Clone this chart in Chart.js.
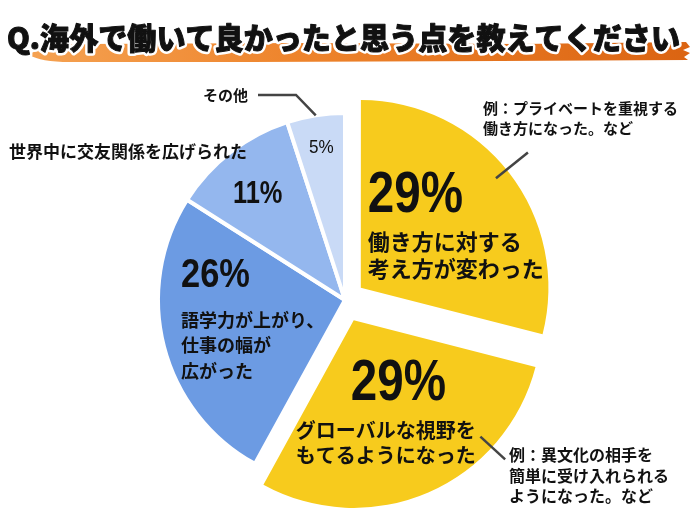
<!DOCTYPE html>
<html>
<head>
<meta charset="utf-8">
<script src="https://cdn.jsdelivr.net/npm/chart.js@4"></script>
<style>
  html, body { margin: 0; padding: 0; background: #fff; }
</style>
</head>
<body>
<canvas id="myChart" width="690" height="520"></canvas>
<script>
// chart data
var titleText = 'Q.海外で働いて良かったと思う点を教えてください';
var categories = ['働き方に対する考え方が変わった', 'グローバルな視野をもてるようになった', '語学力が上がり、仕事の幅が広がった', '世界中に交友関係を広げられた', 'その他'];
var values = [29, 29, 26, 11, 5];
var pctLabels = ['29%', '29%', '26%', '11%', '5%'];
var innerLines = [
    ['働き方に対する', '考え方が変わった'],
    ['グローバルな視野を', 'もてるようになった'],
    ['語学力が上がり、', '仕事の幅が', '広がった'],
    [],
    []
];
var noteLines = [
    ['例：プライベートを重視する', '働き方になった。など'],
    ['例：異文化の相手を', '簡単に受け入れられる', 'ようになった。など'],
    [],
    ['世界中に交友関係を広げられた'],
    ['その他']
];

// styles
var sliceColors = ['#F7CB1D', '#F7CB1D', '#6C9BE3', '#94B7EE', '#C9DAF6'];
var sliceShift = [20, 22, 0, 0, 0];   // px the slice is pulled out
var jpFont = '"Noto Sans CJK JP", sans-serif';
var numFont = '"Liberation Sans", Arial, sans-serif';

// label placement relative to each slice's apex
var pctLayout = [
    { dx: 7, dy: -76, size: 58, sx: 0.82, weight: 'bold' },
    { dx: -3, dy: 80, size: 58, sx: 0.82, weight: 'bold' },
    { dx: -164, dy: -13, size: 41, sx: 0.84, weight: 'bold' },
    { dx: -112, dy: -97, size: 31, sx: 0.82, weight: 'bold' },
    { dx: -36, dy: -147, size: 18, sx: 0.95, weight: 'normal' }
];
var lineLayout = [
    { dx: 7, dy: -46, lh: 27, size: 22 },
    { dx: -58, dy: 110, lh: 25, size: 20 },
    { dx: -164, dy: 20, lh: 25.5, size: 18 },
    null,
    null
];
// outside notes, relative to the pie centre
var noteLayout = [
    { dx: 138, dy: -192, lh: 20.5, size: 15, align: 'left' },
    { dx: 164, dy: 155, lh: 20.5, size: 16, align: 'left' },
    null,
    { dx: -336, dy: -148, lh: 20, size: 17, align: 'left' },
    { dx: -97, dy: -205, lh: 20, size: 15, align: 'right' }
];
var leaders = [
    { slice: 0, deg: 51, r0: 0.93, r1: 1.15 },
    { slice: 1, deg: 132.6, r0: 0.92, r1: 1.1 },
    { slice: 4, deg: 351, r0: 1.0, pts: [[-49, -205], [-87, -205]] }
];

function drawTitle(ctx) {
    // orange brush stroke
    var g = ctx.createLinearGradient(30, 0, 690, 0);
    g.addColorStop(0, '#F5A252');
    g.addColorStop(0.4, '#EE842C');
    g.addColorStop(1, '#DB6412');
    ctx.save();
    ctx.fillStyle = g;
    ctx.beginPath();
    ctx.moveTo(30, 55);
    ctx.quadraticCurveTo(38, 45, 80, 44);
    ctx.lineTo(300, 43);
    ctx.lineTo(520, 44);
    ctx.lineTo(686, 42);
    ctx.lineTo(690, 47);
    ctx.lineTo(683, 50);
    ctx.lineTo(690, 53);
    ctx.lineTo(684, 57);
    ctx.lineTo(688, 60);
    ctx.lineTo(500, 61);
    ctx.lineTo(250, 62);
    ctx.lineTo(70, 62);
    ctx.quadraticCurveTo(40, 62, 30, 55);
    ctx.closePath();
    ctx.fill();
    ctx.restore();

    // title text with white halo
    ctx.save();
    ctx.font = '900 30px ' + jpFont;
    ctx.textBaseline = 'middle';
    ctx.textAlign = 'left';
    var w = ctx.measureText(titleText).width;
    var sx = 673 / w;
    ctx.translate(7, 38);
    ctx.scale(sx, 1);
    ctx.lineJoin = 'round';
    ctx.lineWidth = 6;
    ctx.strokeStyle = '#fff';
    ctx.strokeText(titleText, 0, 0);
    ctx.fillStyle = '#111';
    ctx.fillText(titleText, 0, 0);
    ctx.lineWidth = 1;
    ctx.strokeStyle = '#111';
    ctx.strokeText(titleText, 0, 0);
    ctx.restore();
}

function apexOf(arc, i) {
    var half = (arc.startAngle + arc.endAngle) / 2;
    return {
        x: arc.x + Math.cos(half) * sliceShift[i],
        y: arc.y + Math.sin(half) * sliceShift[i]
    };
}

var labelPlugin = {
    id: 'pieLabels',
    afterDraw: function (chart) {
        var ctx = chart.ctx;
        var arcs = chart.getDatasetMeta(0).data;
        var cx = arcs[0].x, cy = arcs[0].y;
        drawTitle(ctx);

        ctx.save();
        ctx.fillStyle = '#111';
        arcs.forEach(function (arc, i) {
            var p = apexOf(arc, i);
            var pl = pctLayout[i];
            ctx.save();
            ctx.font = pl.weight + ' ' + pl.size + 'px ' + numFont;
            ctx.textBaseline = 'alphabetic';
            ctx.textAlign = 'left';
            ctx.translate(p.x + pl.dx, p.y + pl.dy);
            ctx.scale(pl.sx, 1);
            ctx.fillText(pctLabels[i], 0, 0);
            ctx.restore();

            var ll = lineLayout[i];
            if (ll) {
                ctx.font = 'bold ' + ll.size + 'px ' + jpFont;
                ctx.textBaseline = 'middle';
                ctx.textAlign = 'left';
                innerLines[i].forEach(function (t, k) {
                    ctx.fillText(t, p.x + ll.dx, p.y + ll.dy + k * ll.lh);
                });
            }

            var nl = noteLayout[i];
            if (nl) {
                ctx.font = 'bold ' + nl.size + 'px ' + jpFont;
                ctx.textBaseline = 'middle';
                ctx.textAlign = nl.align;
                noteLines[i].forEach(function (t, k) {
                    ctx.fillText(t, cx + nl.dx, cy + nl.dy + k * nl.lh);
                });
            }
        });

        // leader lines
        ctx.strokeStyle = '#444';
        ctx.lineWidth = 2.5;
        ctx.lineCap = 'butt';
        leaders.forEach(function (ld) {
            var arc = arcs[ld.slice];
            var p = apexOf(arc, ld.slice);
            var a = ld.deg * Math.PI / 180;
            var r = arc.outerRadius;
            ctx.beginPath();
            ctx.moveTo(p.x + Math.sin(a) * r * ld.r0, p.y - Math.cos(a) * r * ld.r0);
            if (ld.pts) {
                ld.pts.forEach(function (q) { ctx.lineTo(cx + q[0], cy + q[1]); });
            } else {
                ctx.lineTo(p.x + Math.sin(a) * r * ld.r1, p.y - Math.cos(a) * r * ld.r1);
            }
            ctx.stroke();
        });
        ctx.restore();
    }
};

var ctx = document.getElementById('myChart').getContext('2d');
var myChart = new Chart(ctx, {
    type: 'pie',
    data: {
        labels: categories,
        datasets: [{
            data: values,
            backgroundColor: sliceColors,
            borderColor: '#fff',
            borderWidth: [0, 0, 4, 4, 4],
            offset: sliceShift.map(function (s) { return s * 4; }),
            hoverOffset: 0
        }]
    },
    options: {
        responsive: false,
        animation: false,
        events: [],
        radius: 187,
        layout: { padding: { top: 80, bottom: 0, left: 0, right: 0 } },
        plugins: {
            legend: { display: false },
            tooltip: { enabled: false }
        }
    },
    plugins: [labelPlugin]
});
</script>
</body>
</html>
